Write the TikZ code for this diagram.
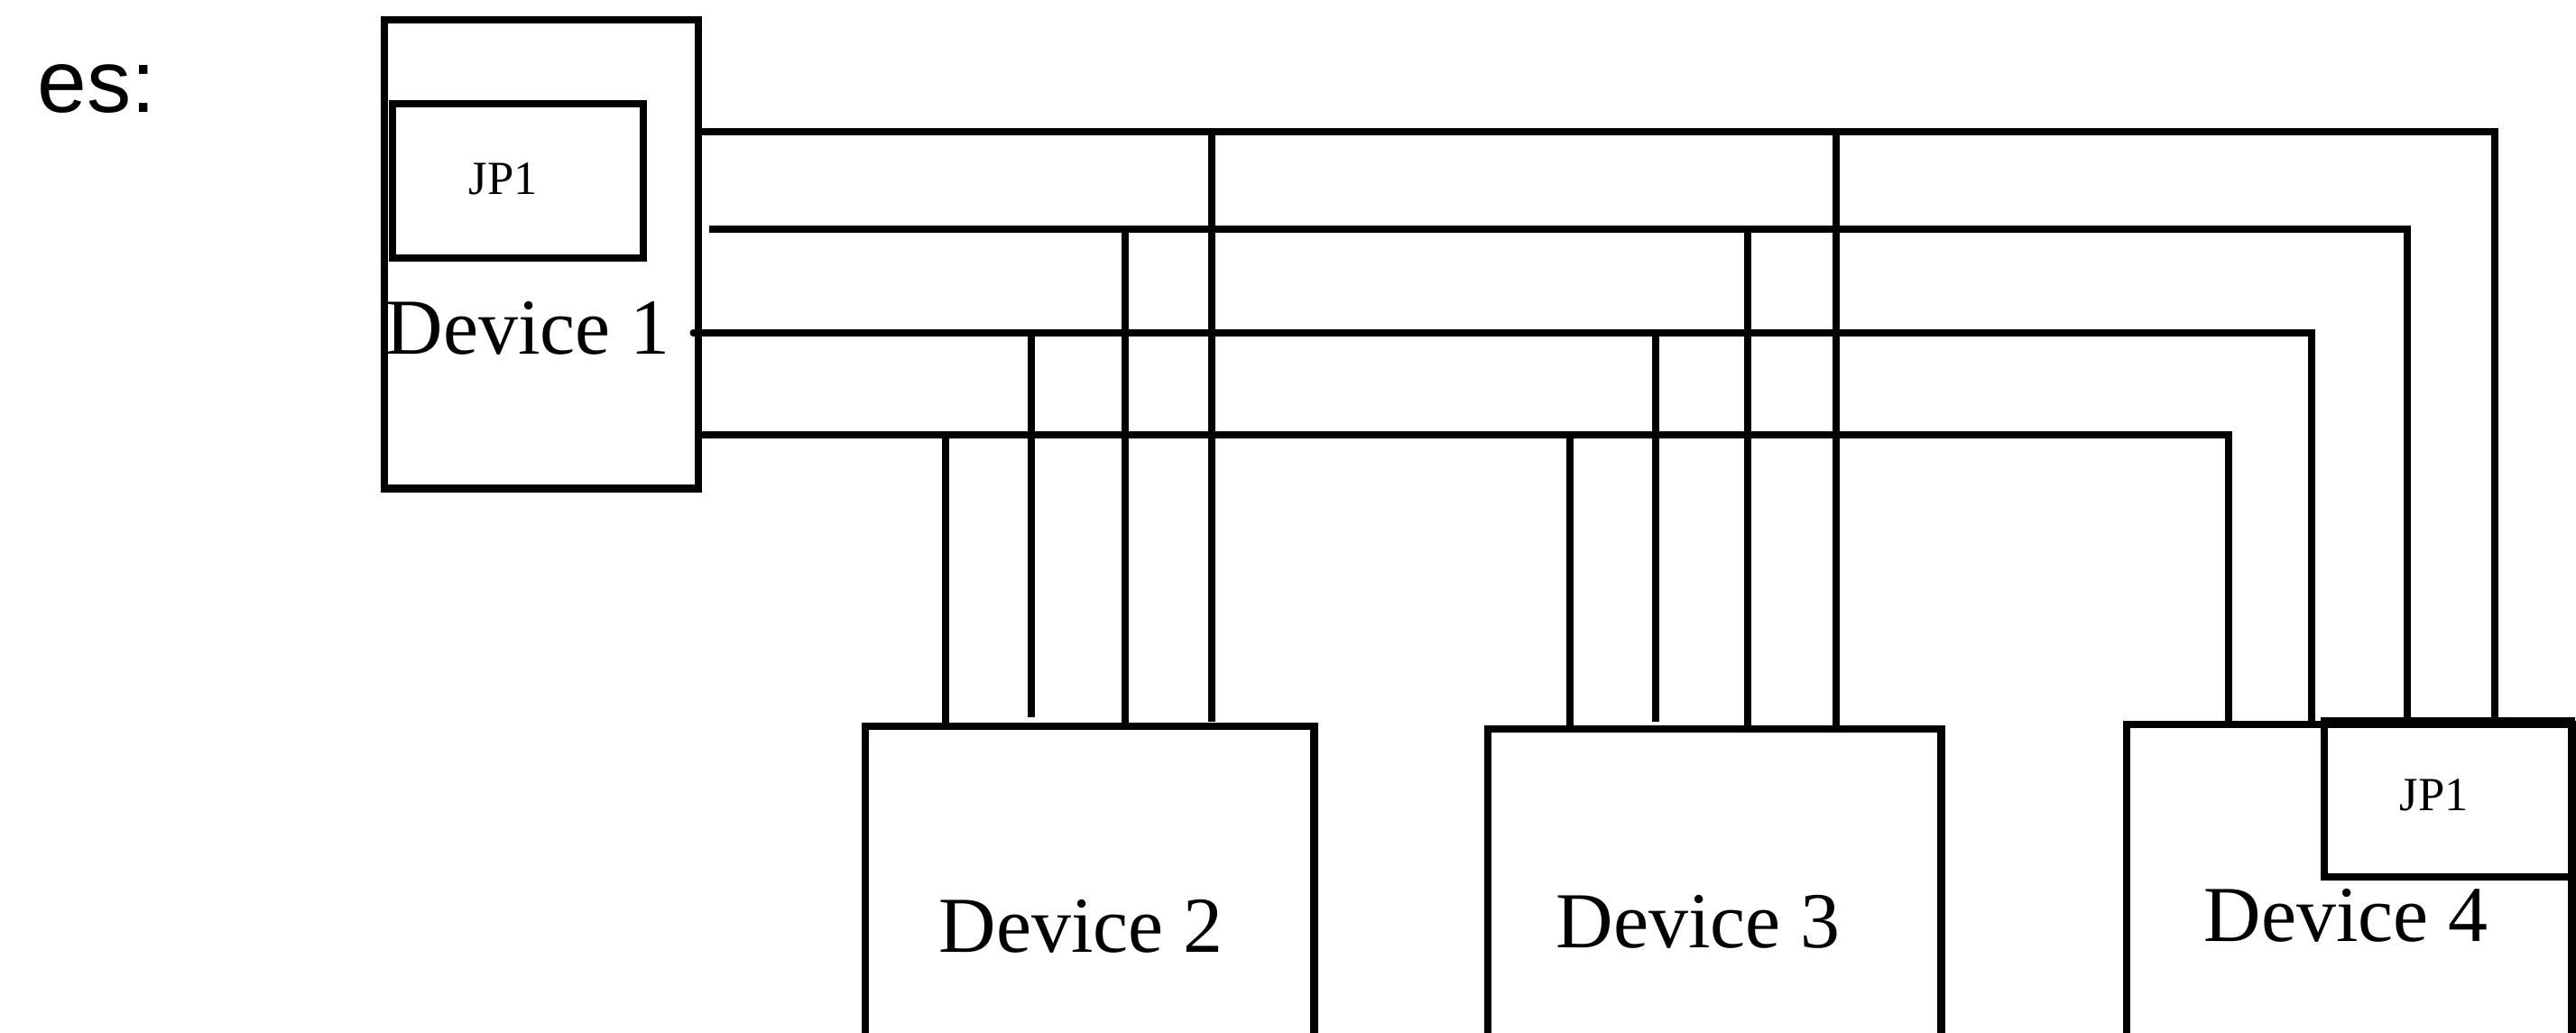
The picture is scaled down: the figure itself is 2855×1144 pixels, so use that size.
\documentclass[tikz,border=0pt]{standalone}
\usepackage{fontspec}
\setmainfont{Liberation Serif}
\newfontfamily\arialfont{Liberation Sans}
\begin{document}
\begin{tikzpicture}[x=0.01cm,y=-0.01cm,
  box/.style={draw, line width=2.4pt, inner sep=0pt, outer sep=0pt, anchor=north west},
  wire/.style={line width=2.1pt},
  lbl/.style={inner sep=0pt, anchor=base, font=\fontsize{25}{30}\selectfont},
  small/.style={inner sep=0pt, anchor=base, font=\fontsize{15}{18}\selectfont}]
\useasboundingbox (0,0) rectangle (2855,1144);
\clip (0,0) rectangle (2855,1144);
% boxes
\node[box, minimum width=3.48cm, minimum height=5.19cm] (dev1) at (426,22) {};
\node[box, minimum width=2.78cm, minimum height=1.71cm] (jp1) at (435,115) {};
\node[box, minimum width=4.97cm, minimum height=5cm] (dev2) at (959,805) {};
\node[box, minimum width=5.02cm, minimum height=5cm] (dev3) at (1649,808) {};
\node[box, minimum width=4.93cm, minimum height=5cm] (dev4) at (2357,803) {};
\node[box, minimum width=2.74cm, minimum height=1.73cm] (jp4) at (2576,799) {};
% labels
\node[inner sep=0pt, anchor=base west, font=\arialfont\fontsize{28}{33}\selectfont] (es) at (41,124) {es:};
\node[small] (jp1t) at (558,215) {JP1};
\node[lbl] (d1t) at (585,392) {Device 1};
\node[lbl] (d2t) at (1198,1055) {Device 2};
\node[lbl] (d3t) at (1882,1050) {Device 3};
\node[lbl] (d4t) at (2600,1043) {Device 4};
\node[small] (jp4t) at (2698,898) {JP1};
% bus levels and columns
\coordinate (h1) at (0,146);
\coordinate (h2) at (0,254);
\coordinate (h3) at (0,369);
\coordinate (h4) at (0,482);
\coordinate (s2) at (786,254);
\coordinate (r1) at (2765,0);
\coordinate (r2) at (2668,0);
\coordinate (r3) at (2562,0);
\coordinate (r4) at (2470,0);
% main bus lines
\draw[wire] (dev1.east |- h1) -| (r1 |- jp4.north);
\draw[wire] (s2) -| (r2 |- jp4.north);
\draw[wire, line cap=round] ([xshift=-0.06cm]dev1.east |- h3) -| (r3 |- dev4.north);
\draw[wire] (dev1.east |- h4) -| (r4 |- dev4.north);
% drops to device 2
\coordinate (a1) at (1048,0);
\coordinate (a2) at (1143,795);
\coordinate (a3) at (1247,0);
\coordinate (a4) at (1343,800);
\draw[wire] (a1 |- h4) -- (a1 |- dev2.north);
\draw[wire] (a2 |- h3) -- (a2);
\draw[wire] (a3 |- h2) -- (a3 |- dev2.north);
\draw[wire] (a4 |- h1) -- (a4);
% drops to device 3
\coordinate (b1) at (1740,0);
\coordinate (b2) at (1835,800);
\coordinate (b3) at (1937,0);
\coordinate (b4) at (2035,0);
\draw[wire] (b1 |- h4) -- (b1 |- dev3.north);
\draw[wire] (b2 |- h3) -- (b2);
\draw[wire] (b3 |- h2) -- (b3 |- dev3.north);
\draw[wire] (b4 |- h1) -- (b4 |- dev3.north);
\end{tikzpicture}
\end{document}
